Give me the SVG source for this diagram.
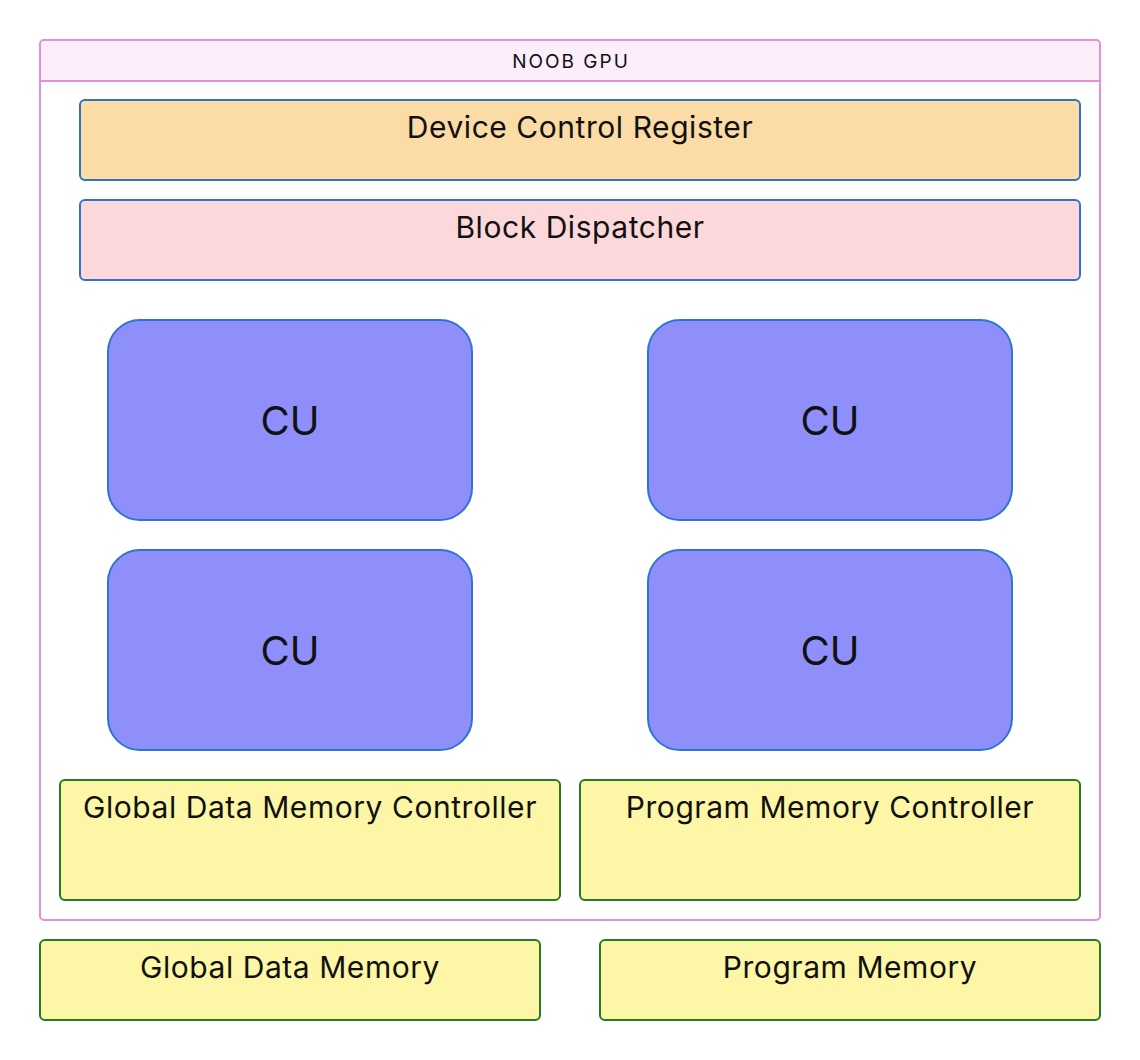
<svg xmlns="http://www.w3.org/2000/svg" width="1140" height="1060" viewBox="0 0 1140 1060">
<style>
text{font-family:Inter,"Liberation Sans",sans-serif;fill:#111;text-anchor:middle}
.bar{stroke:#2f74c0;stroke-width:2}
.cu{fill:#8f8ffc;stroke:#2f74d0;stroke-width:2}
.mem{fill:#fdf6a6;stroke:#247a1e;stroke-width:2}
.lbl{font-size:30px;letter-spacing:0.55px}
.cut{font-size:40px}
</style>
<rect width="1140" height="1060" fill="#fff"/>
<g id="noob-gpu">
<rect x="40" y="40" width="1060" height="880" rx="4" fill="#fff" stroke="#e58fdc" stroke-width="2"/>
<path d="M41 80 V45 a4 4 0 0 1 4 -4 H1095 a4 4 0 0 1 4 4 V80 Z" fill="#fdeefc"/>
<line x1="40" y1="81" x2="1100" y2="81" stroke="#e58fdc" stroke-width="2"/>
<text x="571" y="68" font-size="19" letter-spacing="2">NOOB GPU</text>
</g>
<g id="device-control-register">
<rect class="bar" x="80" y="100" width="1000" height="80" rx="5" fill="#fcdca6"/>
<text class="lbl" x="580" y="138">Device Control Register</text>
</g>
<g id="block-dispatcher">
<rect class="bar" x="80" y="200" width="1000" height="80" rx="5" fill="#fdd8da"/>
<text class="lbl" x="580" y="238">Block Dispatcher</text>
</g>
<g id="cu-1">
<rect class="cu" x="108" y="320" width="364" height="200" rx="32"/>
<text class="cut" x="290" y="435">CU</text>
</g>
<g id="cu-2">
<rect class="cu" x="648" y="320" width="364" height="200" rx="32"/>
<text class="cut" x="830" y="435">CU</text>
</g>
<g id="cu-3">
<rect class="cu" x="108" y="550" width="364" height="200" rx="32"/>
<text class="cut" x="290" y="665">CU</text>
</g>
<g id="cu-4">
<rect class="cu" x="648" y="550" width="364" height="200" rx="32"/>
<text class="cut" x="830" y="665">CU</text>
</g>
<g id="global-data-memory-controller">
<rect class="mem" x="60" y="780" width="500" height="120" rx="5"/>
<text class="lbl" x="310" y="818">Global Data Memory Controller</text>
</g>
<g id="program-memory-controller">
<rect class="mem" x="580" y="780" width="500" height="120" rx="5"/>
<text class="lbl" x="830" y="818">Program Memory Controller</text>
</g>
<g id="global-data-memory">
<rect class="mem" x="40" y="940" width="500" height="80" rx="5"/>
<text class="lbl" x="290" y="978">Global Data Memory</text>
</g>
<g id="program-memory">
<rect class="mem" x="600" y="940" width="500" height="80" rx="5"/>
<text class="lbl" x="850" y="978">Program Memory</text>
</g>
<g id="connectors"></g>
</svg>
